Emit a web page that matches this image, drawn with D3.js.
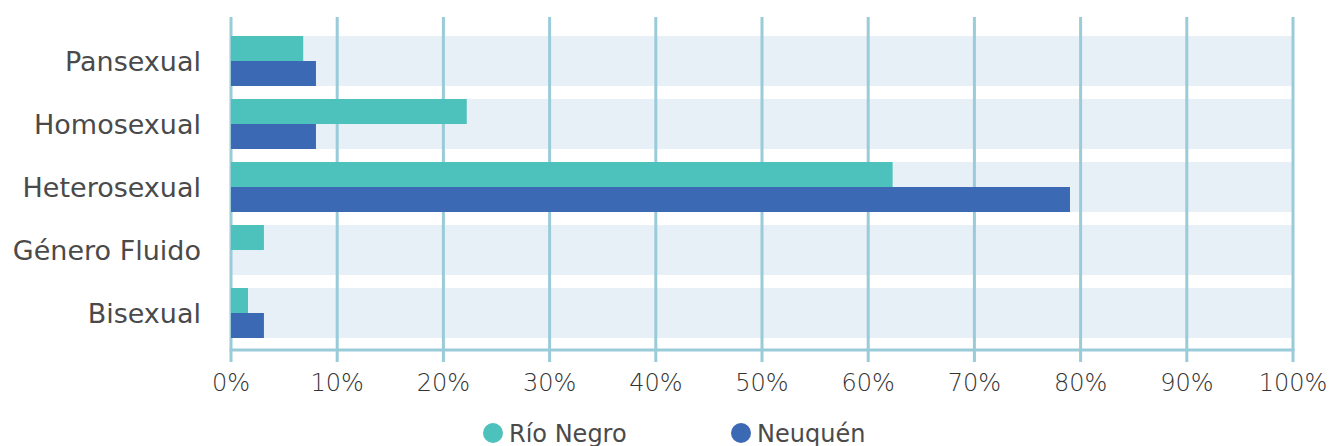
<!DOCTYPE html>
<html>
<head>
<meta charset="utf-8">
<script src="https://cdn.jsdelivr.net/npm/d3@7"></script>
<style>
  body { margin: 0; background: #fff; }
  text { font-family: "DejaVu Sans", sans-serif; fill: #4a4a4a; }
</style>
</head>
<body>
<div id="chart"></div>
<script>
// data (percent)
const categories = ["Pansexual", "Homosexual", "Heterosexual", "Género Fluido", "Bisexual"];
const seriesNames = ["Río Negro", "Neuquén"];
const rioNegro = [6.8, 22.2, 62.3, 3.1, 1.6];
const neuquen = [8.0, 8.0, 79.0, 0, 3.1];
const ticks = [0, 10, 20, 30, 40, 50, 60, 70, 80, 90, 100];
const colors = ["#4dc1bc", "#3b69b3"];

const width = 1329, height = 446;
const svg = d3.select("#chart").append("svg")
    .attr("width", width)
    .attr("height", height);

const x = d3.scaleLinear().domain([0, 100]).range([231, 1293]);
const y = d3.scaleBand().domain(categories).range([29.5, 344.5]).paddingInner(13 / 63).paddingOuter(13 / 126);
const sub = d3.scaleBand().domain(seriesNames).range([0, y.bandwidth()]);

// background bands
svg.append("g")
  .selectAll("rect")
  .data(categories)
  .enter()
  .append("rect")
    .attr("x", x(0))
    .attr("y", d => y(d))
    .attr("width", x(100) - x(0))
    .attr("height", y.bandwidth())
    .style("fill", "#e8f0f7");

// gridlines
svg.append("g")
  .selectAll("line")
  .data(ticks)
  .enter()
  .append("line")
    .attr("x1", d => x(d)).attr("x2", d => x(d))
    .attr("y1", 17).attr("y2", 362)
    .style("stroke", "#9acbd9")
    .style("stroke-width", 3);

// baseline
svg.append("line")
  .attr("x1", x(0) - 1.5).attr("x2", x(100) + 1.5)
  .attr("y1", 350).attr("y2", 350)
  .style("stroke", "#9acbd9")
  .style("stroke-width", 3);

// bars
const rows = categories.map((c, i) => [
  {cat: c, s: seriesNames[0], v: rioNegro[i]},
  {cat: c, s: seriesNames[1], v: neuquen[i]}
]).flat();

svg.append("g")
  .selectAll("rect")
  .data(rows)
  .enter()
  .append("rect")
    .attr("x", x(0))
    .attr("y", d => y(d.cat) + sub(d.s))
    .attr("width", d => x(d.v) - x(0))
    .attr("height", sub.bandwidth())
    .style("fill", d => colors[seriesNames.indexOf(d.s)]);

// category labels
svg.append("g")
  .selectAll("text")
  .data(categories)
  .enter()
  .append("text")
    .attr("x", 201)
    .attr("y", d => y(d) + y.bandwidth() / 2)
    .attr("dy", "0.36em")
    .style("text-anchor", "end")
    .style("font-size", "27px")
    .text(d => d);

// tick labels
svg.append("g")
  .selectAll("text")
  .data(ticks)
  .enter()
  .append("text")
    .attr("x", d => x(d))
    .attr("y", 391)
    .style("text-anchor", "middle")
    .style("font-size", "24px")
    .style("font-weight", 300)
    .style("fill", "#333")
    .text(d => d + "%");

// legend
const legendX = [493, 741];
const legend = svg.append("g")
  .selectAll("g")
  .data(seriesNames)
  .enter()
  .append("g")
    .attr("transform", (d, i) => "translate(" + legendX[i] + ",433)");

legend.append("circle")
  .attr("r", 10)
  .style("fill", (d, i) => colors[i]);

legend.append("text")
  .attr("x", 16)
  .attr("y", 8.5)
  .style("font-size", "24px")
  .text(d => d);
</script>
</body>
</html>
